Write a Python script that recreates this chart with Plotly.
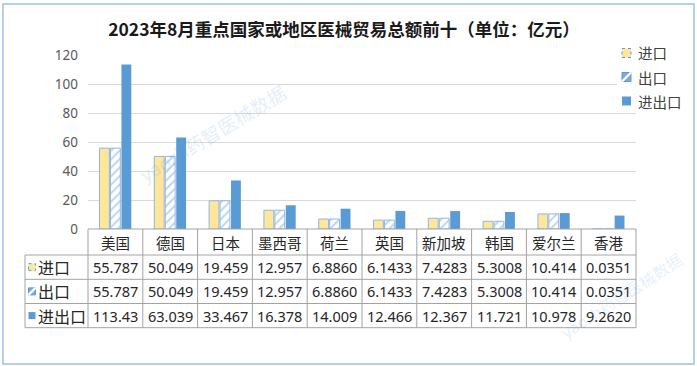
import plotly.graph_objects as go

# ---------------- data ----------------
categories = ["美国", "德国", "日本", "墨西哥", "荷兰", "英国", "新加坡", "韩国", "爱尔兰", "香港"]
import_values = [55.787, 50.049, 19.459, 12.957, 6.8860, 6.1433, 7.4283, 5.3008, 10.414, 0.0351]
export_values = [55.787, 50.049, 19.459, 12.957, 6.8860, 6.1433, 7.4283, 5.3008, 10.414, 0.0351]
total_values = [113.43, 63.039, 33.467, 16.378, 14.009, 12.466, 12.367, 11.721, 10.978, 9.2620]
series_names = ["进口", "出口", "进出口"]
y_ticks = [0, 20, 40, 60, 80, 100, 120]
title_text = "2023年8月重点国家或地区医械贸易总额前十（单位：亿元）"
watermark_text = "yaozh药智医械数据"

# ---------------- layout geometry (pixels) ----------------
W, H = 697, 366
L, R, T, B = 88, 61, 55, 137
PW, PH = W - L - R, H - T - B
BASE = H - B


def px(x):
    return (x - L) / PW


def py(y):
    return (BASE - y) / PH


def fmt(v):
    if v >= 100:
        return f"{v:.2f}"
    if v >= 10:
        return f"{v:.3f}"
    return f"{v:.4f}"


YELLOW = "#FFE699"
BLUE = "#5B9BD5"
EDGE = "#8DB8E6"
GRID = "#D9D9D9"
TLINE = "#A3A3A3"
TXT = "#262626"
FONT = "Noto Sans, Noto Sans CJK SC, sans-serif"
CJK = "Noto Sans CJK SC, sans-serif"

fig = go.Figure()
fig.add_trace(go.Bar(
    x=categories, y=import_values, name=series_names[0],
    marker=dict(color=YELLOW, line=dict(color=EDGE, width=1)),
))
fig.add_trace(go.Bar(
    x=categories, y=export_values, name=series_names[1],
    marker=dict(color="white", line=dict(color=EDGE, width=1),
                pattern=dict(shape="/", fgcolor="#7FA8DF", bgcolor="white",
                             size=6, solidity=0.32)),
))
fig.add_trace(go.Bar(
    x=categories, y=total_values, name=series_names[2],
    marker=dict(color=BLUE, line=dict(width=0)),
))

shapes = []
annotations = []
n = len(categories)

# outer border
shapes.append(dict(type="rect", xref="paper", yref="paper",
                   x0=px(3), x1=px(694), y0=py(364), y1=py(4),
                   line=dict(color="#9BC2E6", width=1.5), fillcolor="rgba(0,0,0,0)",
                   layer="above"))

# ---------------- data table ----------------
row_edges = [BASE, 255, 279.3, 303.5, 327.7]
key_left = px(25)
shapes.append(dict(type="line", xref="paper", yref="paper", x0=0, x1=1,
                   y0=py(row_edges[0]), y1=py(row_edges[0]), line=dict(color=TLINE, width=1)))
for ry in row_edges[1:]:
    shapes.append(dict(type="line", xref="paper", yref="paper", x0=key_left, x1=1,
                       y0=py(ry), y1=py(ry), line=dict(color=TLINE, width=1)))
for k in range(n + 1):
    shapes.append(dict(type="line", xref="paper", yref="paper", x0=k / n, x1=k / n,
                       y0=py(row_edges[0]), y1=py(row_edges[-1]), line=dict(color=TLINE, width=1)))
shapes.append(dict(type="line", xref="paper", yref="paper", x0=key_left, x1=key_left,
                   y0=py(row_edges[1]), y1=py(row_edges[-1]), line=dict(color=TLINE, width=1)))

hc = (row_edges[0] + row_edges[1]) / 2
for c in categories:
    annotations.append(dict(x=c, xref="x", y=py(hc), yref="paper", text=c, showarrow=False,
                            xanchor="center", yanchor="middle",
                            font=dict(family=CJK, size=14.5, color=TXT)))

rows = [import_values, export_values, total_values]


def key_icon(idx, xl, yc, size):
    out = []
    x0, x1 = px(xl), px(xl + size)
    y0, y1 = py(yc + size / 2), py(yc - size / 2)
    if idx == 0:
        out.append(dict(type="rect", xref="paper", yref="paper", x0=x0, x1=x1, y0=y0, y1=y1,
                        fillcolor=YELLOW, line=dict(color=BLUE, width=1, dash="dot")))
    elif idx == 1:
        out.append(dict(type="rect", xref="paper", yref="paper", x0=x0, x1=x1, y0=y0, y1=y1,
                        fillcolor="#7FA8DF", line=dict(color=BLUE, width=1)))
        out.append(dict(type="line", xref="paper", yref="paper", x0=x0, x1=x1, y0=y0, y1=y1,
                        line=dict(color="white", width=2.2)))
    else:
        out.append(dict(type="rect", xref="paper", yref="paper", x0=x0, x1=x1, y0=y0, y1=y1,
                        fillcolor=BLUE, line=dict(width=0)))
    return out


for r, vals in enumerate(rows):
    yc = (row_edges[r + 1] + row_edges[r + 2]) / 2
    for c, v in zip(categories, vals):
        annotations.append(dict(x=c, xref="x", y=py(yc), yref="paper", text=fmt(v), showarrow=False,
                                xanchor="center", yanchor="middle",
                                font=dict(family=FONT, size=14.5, color=TXT)))
    shapes += key_icon(r, 28.5, yc, 7)
    annotations.append(dict(x=px(35.5), xref="paper", y=py(yc), yref="paper", text=series_names[r],
                            showarrow=False, xanchor="left", yanchor="middle",
                            font=dict(family=CJK, size=16, color=TXT)))

# ---------------- legend (top right) ----------------
legend_y = [53, 77, 101]
for i, name in enumerate(series_names):
    shapes.append(dict(type="rect", xref="paper", yref="paper", x0=px(617), x1=px(690),
                       y0=py(legend_y[i] + 11), y1=py(legend_y[i] - 11),
                       fillcolor="white", line=dict(width=0)))
for i, name in enumerate(series_names):
    shapes += key_icon(i, 622, legend_y[i], 9)
    annotations.append(dict(x=px(636), xref="paper", y=py(legend_y[i]), yref="paper", text=name,
                            showarrow=False, xanchor="left", yanchor="middle",
                            font=dict(family=CJK, size=14.5, color="#404040")))

# ---------------- watermarks ----------------
annotations.append(dict(x=px(213), xref="paper", y=py(134), yref="paper", text=watermark_text,
                        showarrow=False, textangle=-31, xanchor="center", yanchor="middle",
                        font=dict(family=FONT, size=19, color="rgba(91,155,213,0.18)")))
annotations.append(dict(x=px(622), xref="paper", y=py(296), yref="paper", text=watermark_text,
                        showarrow=False, textangle=-33, xanchor="center", yanchor="middle",
                        font=dict(family=FONT, size=16, color="rgba(91,155,213,0.16)")))

fig.update_layout(
    width=W, height=H,
    margin=dict(l=L, r=R, t=T, b=B, pad=0),
    paper_bgcolor="white", plot_bgcolor="white",
    barmode="group", bargap=0.4, bargroupgap=0.1,
    showlegend=False,
    hovermode=False,
    title=dict(text="<b>" + title_text + "</b>", x=344 / W, y=1 - 30 / H,
               xanchor="center", yanchor="middle", xref="container", yref="container",
               font=dict(family=CJK, size=17.5, color="#1A1A1A")),
    xaxis=dict(type="category", categoryarray=categories, showticklabels=False,
               showgrid=False, zeroline=False, showline=False, ticks=""),
    yaxis=dict(range=[0, 120], tickvals=y_ticks, showgrid=True, gridcolor=GRID, gridwidth=1,
               zeroline=False, showline=False, ticks="", ticklabelstandoff=9,
               tickfont=dict(family=FONT, size=13.5, color="#595959")),
    shapes=shapes,
    annotations=annotations,
)

fig.write_html("out.html", config={"displayModeBar": False},
               post_script="document.body.style.margin='0';document.body.style.overflow='hidden';")
